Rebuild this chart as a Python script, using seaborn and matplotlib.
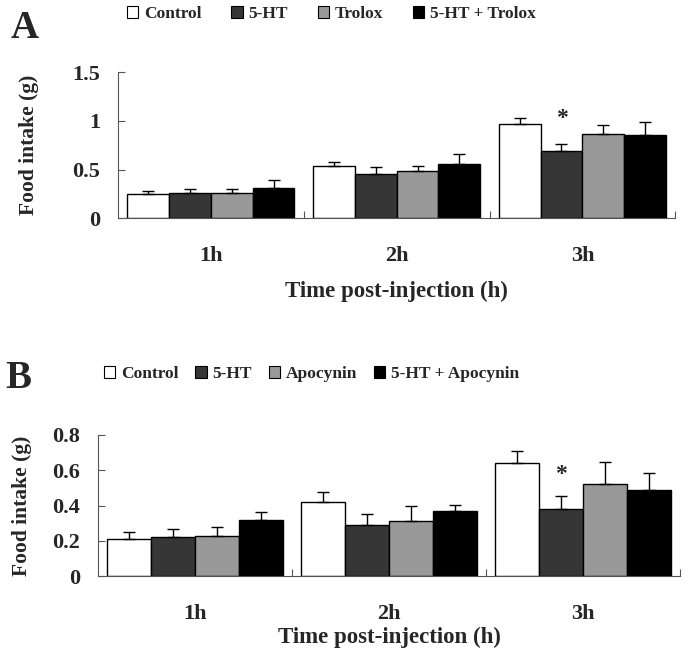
import matplotlib
matplotlib.use("Agg")
import matplotlib.pyplot as plt
import seaborn as sns
import pandas as pd
import numpy as np
from matplotlib.patches import Patch

times = ["1h", "2h", "3h"]
groups_a = ["Control", "5-HT", "Trolox", "5-HT + Trolox"]
means_a = {
    "Control": [0.25, 0.54, 0.97],
    "5-HT": [0.26, 0.45, 0.69],
    "Trolox": [0.26, 0.48, 0.87],
    "5-HT + Trolox": [0.31, 0.56, 0.85],
}
errs_a = {
    "Control": [0.03, 0.04, 0.06],
    "5-HT": [0.035, 0.08, 0.07],
    "Trolox": [0.035, 0.055, 0.085],
    "5-HT + Trolox": [0.085, 0.10, 0.14],
}
groups_b = ["Control", "5-HT", "Apocynin", "5-HT + Apocynin"]
means_b = {
    "Control": [0.21, 0.42, 0.64],
    "5-HT": [0.22, 0.29, 0.38],
    "Apocynin": [0.23, 0.31, 0.52],
    "5-HT + Apocynin": [0.32, 0.37, 0.49],
}
errs_b = {
    "Control": [0.04, 0.055, 0.07],
    "5-HT": [0.05, 0.06, 0.075],
    "Apocynin": [0.05, 0.09, 0.125],
    "5-HT + Apocynin": [0.045, 0.035, 0.095],
}
colors = ["#ffffff", "#363636", "#999999", "#000000"]

sns.set_theme(style="white")
plt.rcParams["font.family"] = ["Liberation Serif", "DejaVu Serif"]
plt.rcParams["font.weight"] = "bold"

fig = plt.figure(figsize=(6.88, 6.57), dpi=100)


def panel(rect, groups, means, errs, yticks, yticklabels, ymax, star_y,
          width, xpad):
    ax = fig.add_axes(rect)
    rows = []
    for g in groups:
        for t, m in zip(times, means[g]):
            rows.append({"time": t, "group": g, "value": m})
    df = pd.DataFrame(rows)
    sns.barplot(data=df, x="time", y="value", hue="group", order=times,
                hue_order=groups, palette=colors, edgecolor="black",
                linewidth=1.0, width=width, errorbar=None, legend=False,
                saturation=1, ax=ax)
    for gi, g in enumerate(groups):
        cont = ax.containers[gi]
        for ti, bar in enumerate(cont):
            xc = bar.get_x() + bar.get_width() / 2
            ax.errorbar(xc, means[g][ti], yerr=[[0], [errs[g][ti]]],
                        fmt="none", ecolor="black", elinewidth=1.0,
                        capsize=4, capthick=1.0, zorder=3)
    b = ax.containers[1][2]
    ax.text(b.get_x() + b.get_width() / 2, star_y, "*", ha="center",
            va="center", fontsize=17, fontweight="bold")
    ax.set_xlim(-0.5, 2.5)
    ax.set_ylim(0, ymax)
    ax.set_yticks(yticks)
    ax.set_yticklabels(yticklabels)
    ax.set_xticks([0.5, 1.5, 2.5])
    ax.set_xticklabels([])
    ax.set_xticks([0, 1, 2], minor=True)
    ax.set_xticklabels(times, minor=True)
    ax.tick_params(axis="x", which="major", direction="in", length=5,
                   width=0.8, bottom=True, color="#555555")
    ax.tick_params(axis="x", which="minor", length=0, pad=xpad, labelsize=16)
    ax.tick_params(axis="y", direction="in", length=5, width=0.8, left=True,
                   labelsize=16, pad=13, color="#555555")
    for lab in ax.get_xticklabels(minor=True) + ax.get_yticklabels():
        lab.set_fontweight("bold")
    for s in ["top", "right"]:
        ax.spines[s].set_visible(False)
    for s in ["left", "bottom"]:
        ax.spines[s].set_color("#555555")
        ax.spines[s].set_linewidth(0.8)
    ax.set_xlabel("")
    ax.set_ylabel("Food intake (g)", fontsize=15.5, fontweight="bold")
    return ax


axA = panel([0.1715, 0.668, 0.81, 0.222], groups_a, means_a, errs_a,
            [0, 0.5, 1, 1.5], ["0", "0.5", "1", "1.5"], 1.5, 1.02, 0.9, 20)
axA.yaxis.set_label_coords(-0.142, 0.5)
axA.set_xlabel("Time post-injection (h)", fontsize=16.5, fontweight="bold",
               labelpad=11)

axB = panel([0.143, 0.123, 0.845, 0.215], groups_b, means_b, errs_b,
            [0, 0.2, 0.4, 0.6, 0.8], ["0", "0.2", "0.4", "0.6", "0.8"], 0.8,
            0.575, 0.91, 20)
axB.yaxis.set_label_coords(-0.115, 0.5)
axB.set_xlabel("Time post-injection (h)", fontsize=16.5, fontweight="bold",
               labelpad=2)


def legend(groups, y, x, cs, size):
    handles = [Patch(facecolor=c, edgecolor="black", linewidth=0.8)
               for c in colors]
    fig.legend(handles, groups, loc="center left", bbox_to_anchor=(x, y),
               ncol=4, frameon=False, handlelength=0.65,
               handleheight=0.65, handletextpad=0.35, columnspacing=cs,
               borderaxespad=0, borderpad=0,
               prop={"weight": "bold", "size": size})


legend(groups_a, 1 - 14 / 657, 127 / 688, 1.7, 12.5)
legend(groups_b, 1 - 374 / 657, 104 / 688, 0.95, 12.5)

fig.text(0.016, 1 - 28 / 657, "A", fontsize=28, fontweight="bold",
         va="center", ha="left")
fig.text(0.008, 1 - 378 / 657, "B", fontsize=28, fontweight="bold",
         va="center", ha="left")

fig.savefig("out.png", dpi=100)
